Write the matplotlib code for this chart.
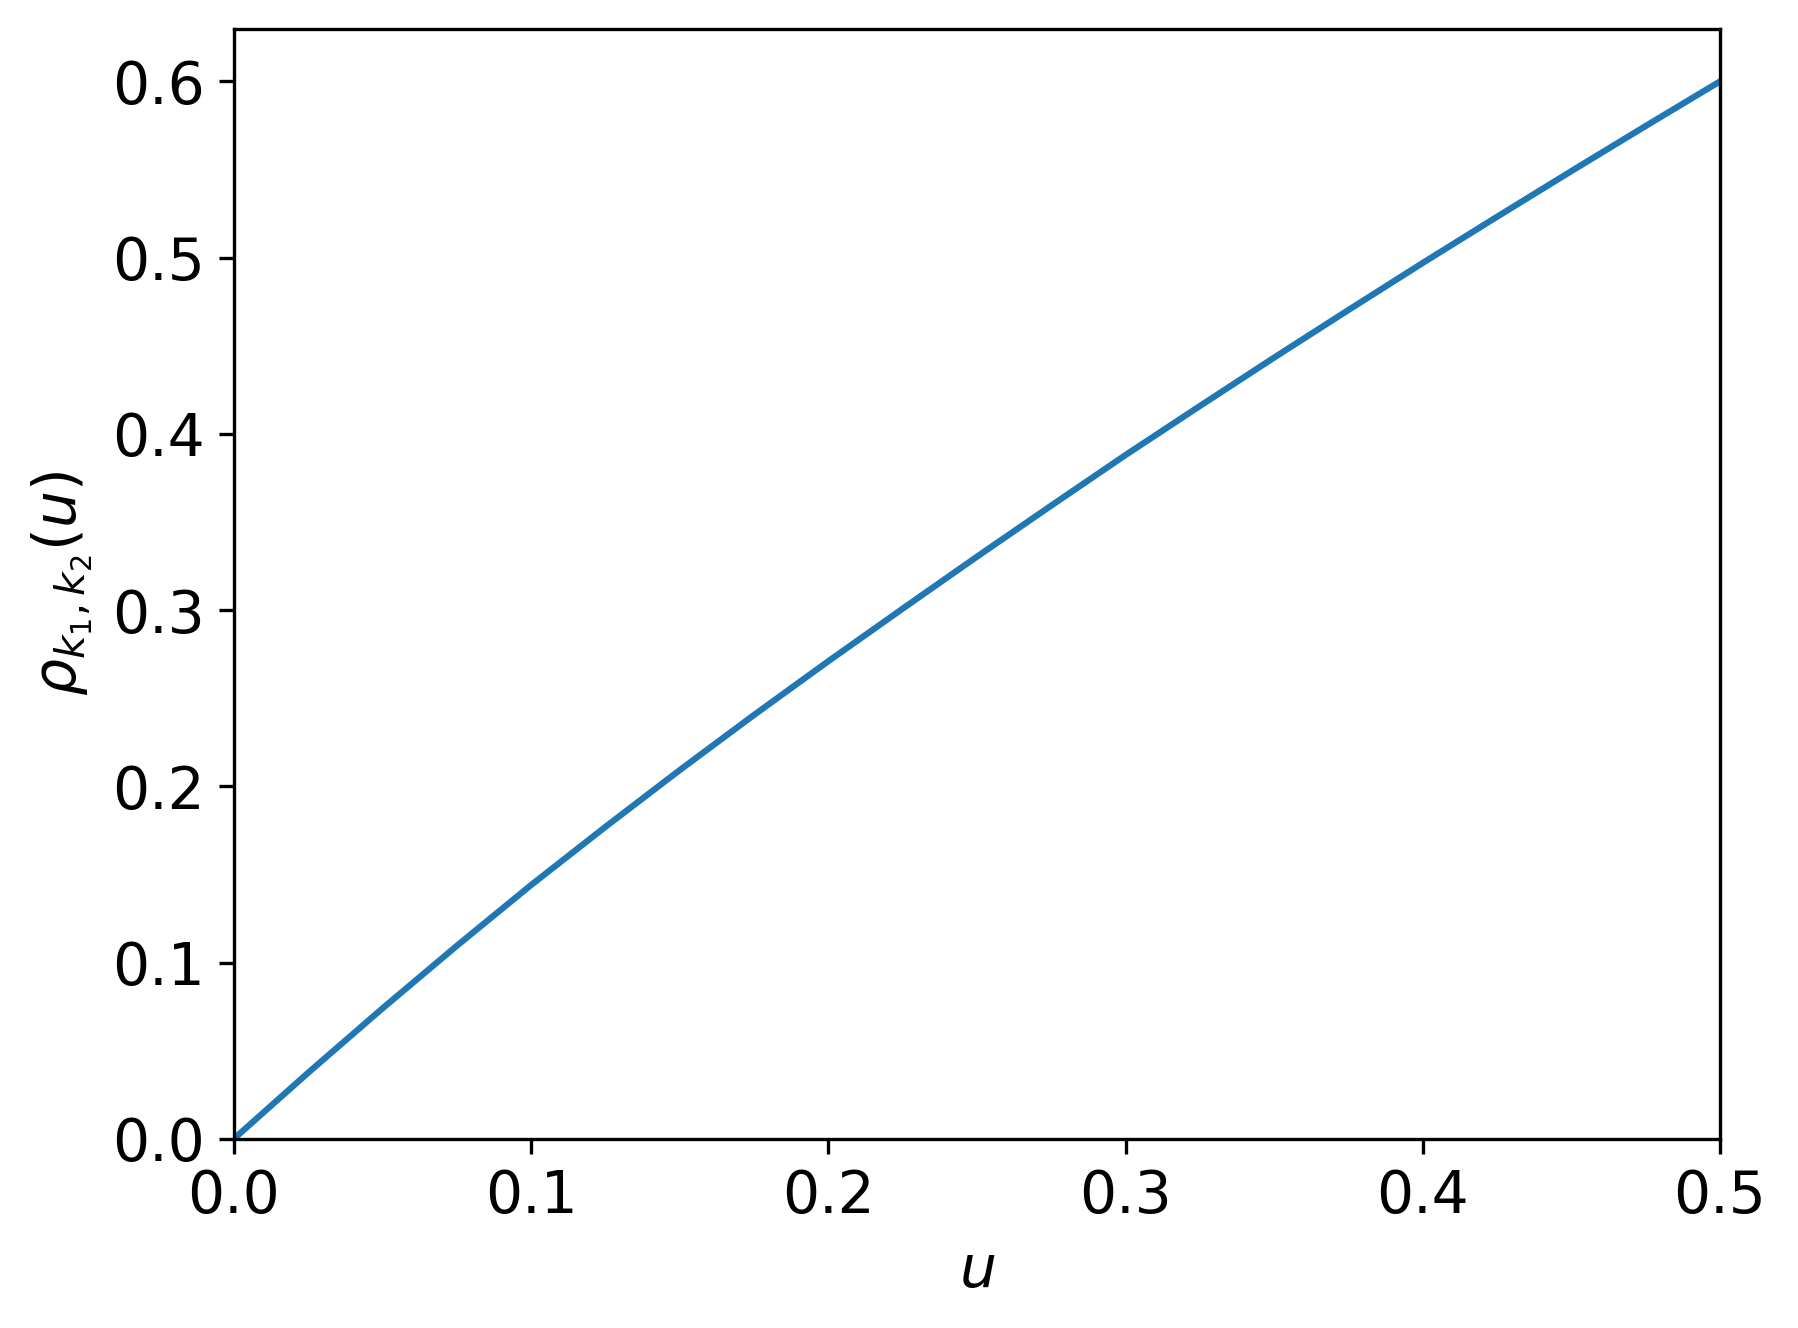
import matplotlib
matplotlib.use("Agg")
import matplotlib.pyplot as plt

# values
u_values = [0.0, 0.025, 0.05, 0.075, 0.1, 0.125, 0.15, 0.175, 0.2, 0.225,
            0.25, 0.275, 0.3, 0.325, 0.35, 0.375, 0.4, 0.425, 0.45, 0.475, 0.5]
rho_values = [0.0, 0.0375, 0.0740, 0.1095, 0.1440, 0.1770, 0.2092, 0.2405,
              0.2710, 0.3008, 0.3303, 0.3593, 0.3880, 0.4158, 0.4433, 0.4703,
              0.4970, 0.5232, 0.5491, 0.5747, 0.6000]

plt.rcParams['font.size'] = 14

fig = plt.figure(figsize=(1798 / 300, 1328 / 300), dpi=300)
ax = fig.add_axes([0.1301, 0.1425, 0.8265, 0.836])

ax.plot(u_values, rho_values, color='#1f77b4', linewidth=1.5)
ax.set_xlim(0, 0.5)
ax.set_ylim(0, 0.63)
ax.set_xlabel(r'$u$')
ax.set_ylabel(r'$\rho_{k_1,k_2}(u)$')

fig.savefig('out.png', dpi=300)
